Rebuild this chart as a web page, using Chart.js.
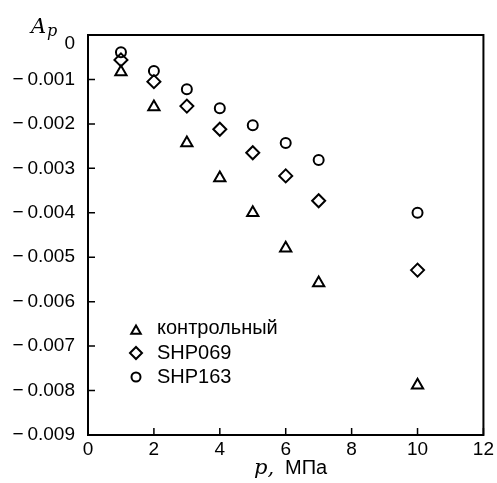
<!DOCTYPE html>
<html>
<head>
<meta charset="utf-8">
<script src="https://cdn.jsdelivr.net/npm/chart.js@4.4.1/dist/chart.umd.min.js"></script>
<style>
  html, body { margin: 0; padding: 0; background: #fff; }
  canvas { display: block; }
</style>
</head>
<body>
<canvas id="c" width="497" height="483"></canvas>
<script>
// pressure, MPa
const pressure = [1, 2, 3, 4, 5, 6, 7, 10];
const seriesNames = ['контрольный', 'SHP069', 'SHP163'];
const control = [-0.00083, -0.00162, -0.00243, -0.00322, -0.0040, -0.0048, -0.00558, -0.00788];
const shp069 = [-0.00056, -0.00105, -0.0016, -0.00212, -0.00265, -0.00317, -0.00373, -0.00529];
const shp163 = [-0.00039, -0.00081, -0.00122, -0.00165, -0.00203, -0.00243, -0.00281, -0.0040];
const xTicks = [0, 2, 4, 6, 8, 10, 12];
const yTicks = [0, -0.001, -0.002, -0.003, -0.004, -0.005, -0.006, -0.007, -0.008, -0.009];

const styles = ['triangle', 'rectRot', 'circle'];
const radii = [6.5, 6.5, 5];
const legendRadii = [5.5, 6, 4.5];

function toPoints(ys) {
    return pressure.map((x, i) => ({ x: x, y: ys[i] }));
}

const SANS = '"Liberation Sans", Arial, sans-serif';
const SERIF = '"DejaVu Serif", "Liberation Serif", serif';
const tickFont = { family: SANS, size: 19 };

// inward ticks, frame, axis titles and the legend inside the plot
const decor = {
    id: 'decor',
    afterDraw(chart) {
        const ctx = chart.ctx;
        const a = chart.chartArea;
        const xs = chart.scales.x, ys = chart.scales.y;
        ctx.save();
        ctx.strokeStyle = '#000';
        ctx.lineWidth = 2;
        ctx.strokeRect(a.left, a.top, a.right - a.left, a.bottom - a.top);

        ctx.lineWidth = 1.5;
        ctx.beginPath();
        xTicks.forEach(v => {
            const px = xs.getPixelForValue(v);
            ctx.moveTo(px, a.bottom);
            ctx.lineTo(px, a.bottom - 7);
        });
        yTicks.forEach(v => {
            const py = ys.getPixelForValue(v);
            ctx.moveTo(a.left, py);
            ctx.lineTo(a.left + 7, py);
        });
        ctx.stroke();

        ctx.fillStyle = '#000';
        // the "0" label sits a little below the top edge in the original
        ctx.font = '19px ' + SANS;
        ctx.textAlign = 'right';
        ctx.textBaseline = 'middle';
        ctx.fillText('0', 75, 44);

        // y title: A_p
        ctx.textBaseline = 'alphabetic';
        ctx.textAlign = 'left';
        ctx.font = 'italic 21px ' + SERIF;
        ctx.fillText('A', 31, 33);
        ctx.font = 'italic 16px ' + SERIF;
        ctx.fillText('p', 47, 36);

        // x title: p, МПа
        ctx.font = 'italic 21px ' + SERIF;
        ctx.fillText('p,', 254, 474);
        ctx.font = '20px ' + SANS;
        ctx.fillText('МПа', 285, 474);

        // legend
        const lx = 136, markY = [331, 353, 377], textY = [328, 353, 377];
        ctx.lineWidth = 2;
        ctx.textBaseline = 'middle';
        ctx.font = '20px ' + SANS;
        seriesNames.forEach((name, i) => {
            ctx.strokeStyle = '#000';
            ctx.fillStyle = 'rgba(0,0,0,0)';
            Chart.helpers.drawPoint(ctx, {
                pointStyle: styles[i], radius: legendRadii[i], rotation: 0, borderWidth: 2
            }, lx, markY[i]);
            ctx.fillStyle = '#000';
            ctx.fillText(name, 157, textY[i]);
        });
        ctx.restore();
    }
};

const datasets = [control, shp069, shp163].map((ys, i) => ({
    label: seriesNames[i],
    data: toPoints(ys),
    showLine: false,
    pointStyle: styles[i],
    pointRadius: radii[i],
    pointHoverRadius: radii[i],
    pointBorderWidth: 2,
    pointBorderColor: '#000',
    pointBackgroundColor: 'rgba(0,0,0,0)',
    borderColor: '#000',
    backgroundColor: 'rgba(0,0,0,0)'
}));

new Chart(document.getElementById('c'), {
    type: 'scatter',
    data: { datasets: datasets },
    options: {
        responsive: false,
        animation: false,
        layout: { padding: { top: 35, right: 7, left: 0, bottom: 0 } },
        plugins: { legend: { display: false }, tooltip: { enabled: false } },
        scales: {
            x: {
                type: 'linear',
                min: 0, max: 12,
                afterFit(scale) { scale.height = 48; },
                afterBuildTicks(scale) { scale.ticks = xTicks.map(v => ({ value: v })); },
                grid: { display: false, drawTicks: false },
                border: { display: false },
                ticks: { color: '#000', font: tickFont, padding: 3, maxRotation: 0 }
            },
            y: {
                type: 'linear',
                min: -0.009, max: 0,
                afterFit(scale) { scale.width = 88; },
                afterBuildTicks(scale) { scale.ticks = yTicks.map(v => ({ value: v })); },
                grid: { display: false, drawTicks: false },
                border: { display: false },
                ticks: {
                    color: '#000', font: tickFont, padding: 13,
                    callback: v => v === 0 ? '' : '\u2212\u2009' + Math.abs(v).toFixed(3)
                }
            }
        }
    },
    plugins: [decor]
});
</script>
</body>
</html>
